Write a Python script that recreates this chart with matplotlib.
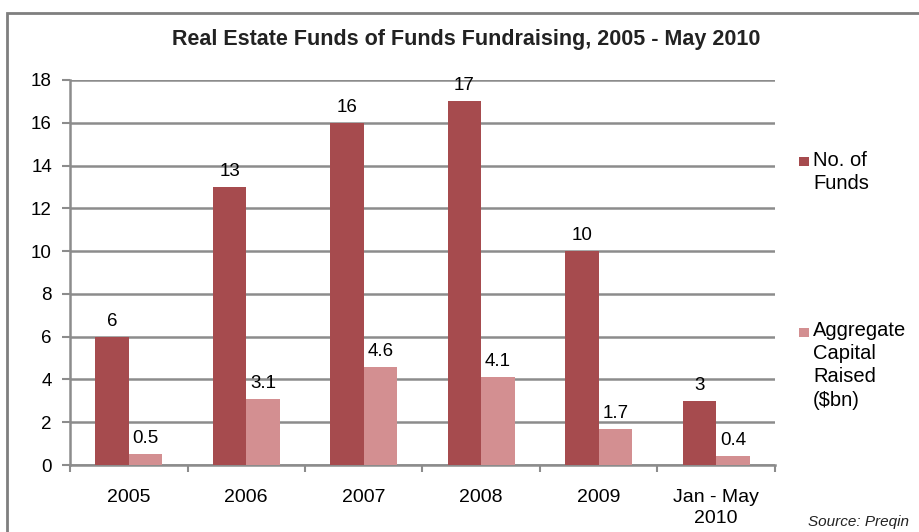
import matplotlib
matplotlib.use("Agg")
import matplotlib.pyplot as plt
import numpy as np
from matplotlib.patches import Rectangle

categories = ["2005", "2006", "2007", "2008", "2009", "Jan - May\n2010"]
num_funds = [6, 13, 16, 17, 10, 3]
capital_raised = [0.5, 3.1, 4.6, 4.1, 1.7, 0.4]
num_labels = ["6", "13", "16", "17", "10", "3"]
cap_labels = ["0.5", "3.1", "4.6", "4.1", "1.7", "0.4"]
yticks = [0, 2, 4, 6, 8, 10, 12, 14, 16, 18]

plt.rcParams['font.family'] = ['Liberation Sans', 'DejaVu Sans']

dark = "#A64B4E"
light = "#D38F91"
grid = "#8C8C8C"

fig = plt.figure(figsize=(9.2, 5.32), dpi=100)
ax = fig.add_axes([70/920, 1-465/532, 705/920, (465-80)/532])

x = np.arange(len(categories))
w = 0.285
ax.bar(x - w/2, num_funds, w, color=dark, label="No. of\nFunds", zorder=3)
ax.bar(x + w/2, capital_raised, w, color=light, label="Aggregate\nCapital\nRaised\n($bn)", zorder=3)

for xi, v, t in zip(x, num_funds, num_labels):
    ax.annotate(t, (xi - w/2, v), xytext=(0, 8), textcoords="offset points",
                ha="center", va="baseline", fontsize=13.5, color="black", zorder=4)
for xi, v, t in zip(x, capital_raised, cap_labels):
    ax.annotate(t, (xi + w/2, v), xytext=(0, 8), textcoords="offset points",
                ha="center", va="baseline", fontsize=13.5, color="black", zorder=4)

ax.set_xlim(-0.5, len(categories) - 0.5)
ax.set_ylim(0, 18)
ax.set_yticks(yticks)
ax.set_yticklabels([str(t) for t in yticks], fontsize=13.5)
ax.yaxis.grid(True, color=grid, linewidth=1.8, zorder=0)
ax.set_axisbelow(True)

ax.set_xticks(x)
ax.set_xticklabels(categories, fontsize=14, linespacing=1.3)
ax.set_xticks(np.arange(-0.5, len(categories)), minor=True)
ax.tick_params(axis="x", which="major", length=0, pad=17)
ax.tick_params(axis="x", which="minor", length=5, width=1.5, color=grid)
ax.tick_params(axis="y", length=6, width=1.5, color=grid, pad=7)

for s in ["top", "right"]:
    ax.spines[s].set_visible(False)
for s in ["left", "bottom"]:
    ax.spines[s].set_color(grid)
    ax.spines[s].set_linewidth(1.8)

fig.text(466/920, 1-40/532, "Real Estate Funds of Funds Fundraising, 2005 - May 2010",
         ha="center", va="center", fontsize=15.5, fontweight="bold", color="#222222")

# legend entries
fig.patches.append(Rectangle((799/920, 1-166/532), 10/920, 9/532, transform=fig.transFigure,
                             facecolor=dark, edgecolor="none"))
fig.text(813/920, 1-151/532, "No. of\nFunds", ha="left", va="top", fontsize=14.5, linespacing=1.28)
fig.patches.append(Rectangle((799/920, 1-337/532), 10/920, 9/532, transform=fig.transFigure,
                             facecolor=light, edgecolor="none"))
fig.text(813/920, 1-321/532, "Aggregate\nCapital\nRaised\n($bn)", ha="left", va="top",
         fontsize=14.5, linespacing=1.28)

fig.text(808/920, 1-522/532, "Source: Preqin", ha="left", va="center", fontsize=11,
         style="italic", color="#222222")

# outer frame
fig.patches.append(Rectangle((7/920, -0.1), 1.1, 1 - 13/532 + 0.1, transform=fig.transFigure,
                             facecolor="none", edgecolor="#7F7F7F", linewidth=2))

fig.savefig("out.png", dpi=100)
